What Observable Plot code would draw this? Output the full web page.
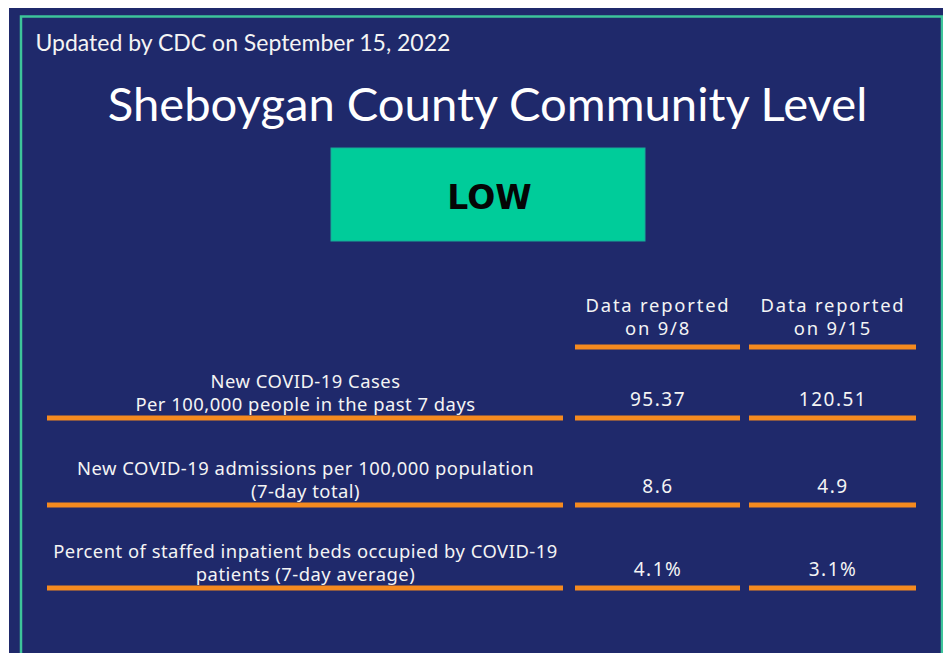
<!DOCTYPE html>
<html>
<head>
<meta charset="utf-8">
<script src="https://cdn.jsdelivr.net/npm/d3@7"></script>
<script src="https://cdn.jsdelivr.net/npm/@observablehq/plot@0.6"></script>
<style>
  html, body { margin: 0; padding: 0; background: #ffffff; }
  #chart svg { display: block; }
</style>
</head>
<body>
<div id="chart"></div>
<script>
// ---- data ----
const updatedNote = "Updated by CDC on September 15, 2022";
const titleText = "Sheboygan County Community Level";
const levelText = "LOW";
const reportHeaders = ["Data reported\non 9/8", "Data reported\non 9/15"];
const metricLabels = [
  "New COVID-19 Cases\nPer 100,000 people in the past 7 days",
  "New COVID-19 admissions per 100,000 population\n(7-day total)",
  "Percent of staffed inpatient beds occupied by COVID-19\npatients (7-day average)"
];
const valuesSep8 = ["95.37", "8.6", "4.1%"];
const valuesSep15 = ["120.51", "4.9", "3.1%"];

// ---- layout (pixels) ----
const W = 943, H = 653;
const navy = "#1f296b", orange = "#f58a1f", green = "#3dc49a", levelFill = "#00cc9a", ink = "#f4f4f4";
const colSpans = [[47, 563], [575, 740], [749, 916]];
const colCenter = colSpans.map(([a, b]) => (a + b) / 2);
const headerRuleY = 346.5;
const rowRuleY = [417.5, 504.5, 587.5];
const tableFont = "'Noto Sans', 'Open Sans', sans-serif";

const headers = reportHeaders.map((h, i) => ({h, x: colCenter[i + 1], x1: colSpans[i + 1][0], x2: colSpans[i + 1][1]}));
const rows = metricLabels.map((label, i) => ({label, v1: valuesSep8[i], v2: valuesSep15[i], y: rowRuleY[i]}));
const rowRules = rows.flatMap(r => colSpans.map(([x1, x2]) => ({x1, x2, y: r.y})));
const cells = rows.flatMap(r => [{t: r.v1, x: colCenter[1], y: r.y}, {t: r.v2, x: colCenter[2], y: r.y}]);

const plot = Plot.plot({
  width: W, height: H, margin: 0,
  x: {type: "identity", axis: null},
  y: {type: "identity", axis: null},
  style: {background: "#ffffff"},
  marks: [
    Plot.rect([0], {x1: 9, x2: W, y1: 8, y2: H, fill: navy}),
    Plot.rect([0], {x1: 21, x2: 942, y1: 16.5, y2: H + 20, fill: "none", stroke: green, strokeWidth: 2.5}),
    Plot.text([updatedNote], {x: 35, y: 50, text: d => d, textAnchor: "start", lineAnchor: "bottom", fill: ink, fontSize: 23, fontFamily: "Lato"}),
    Plot.text([titleText], {x: 487, y: 120, text: d => d, textAnchor: "middle", lineAnchor: "bottom", fill: "#ffffff", fontSize: 47.2, fontFamily: "Lato"}),
    Plot.rect([levelText], {x1: 331, x2: 645, y1: 148, y2: 241, fill: levelFill, stroke: "#1aa89a", strokeWidth: 1}),
    Plot.text([levelText], {x: 489, y: 208, text: d => d, textAnchor: "middle", lineAnchor: "bottom", fill: "#050505", fontSize: 33, fontWeight: 700, fontFamily: "DejaVu Sans"}),
    Plot.text(headers, {x: "x", y: headerRuleY - 12.5, text: "h", textAnchor: "middle", lineAnchor: "bottom", lineHeight: 1.25, fill: ink, fontSize: 18.4, fontFamily: tableFont, ariaDescription: "headers"}),
    Plot.ruleY(headers, {x1: "x1", x2: "x2", y: headerRuleY, stroke: orange, strokeWidth: 5}),
    Plot.text(rows, {x: colCenter[0], y: d => d.y - 7.5, text: "label", textAnchor: "middle", lineAnchor: "bottom", lineHeight: 1.25, fill: ink, fontSize: 18.4, fontFamily: tableFont, ariaDescription: "labels"}),
    Plot.text(cells, {x: "x", y: d => d.y - 12.5, text: "t", textAnchor: "middle", lineAnchor: "bottom", fill: ink, fontSize: 19, fontFamily: tableFont, ariaDescription: "values"}),
    Plot.ruleY(rowRules, {x1: "x1", x2: "x2", y: "y", stroke: orange, strokeWidth: 5})
  ]
});

d3.select(plot).selectAll("g[aria-description='headers']").attr("letter-spacing", "1.8px");
d3.select(plot).selectAll("g[aria-description='values']").attr("letter-spacing", "1.5px");
d3.select(plot).selectAll("g[aria-description='labels']").attr("letter-spacing", "0.5px");
document.getElementById("chart").appendChild(plot);
</script>
</body>
</html>
